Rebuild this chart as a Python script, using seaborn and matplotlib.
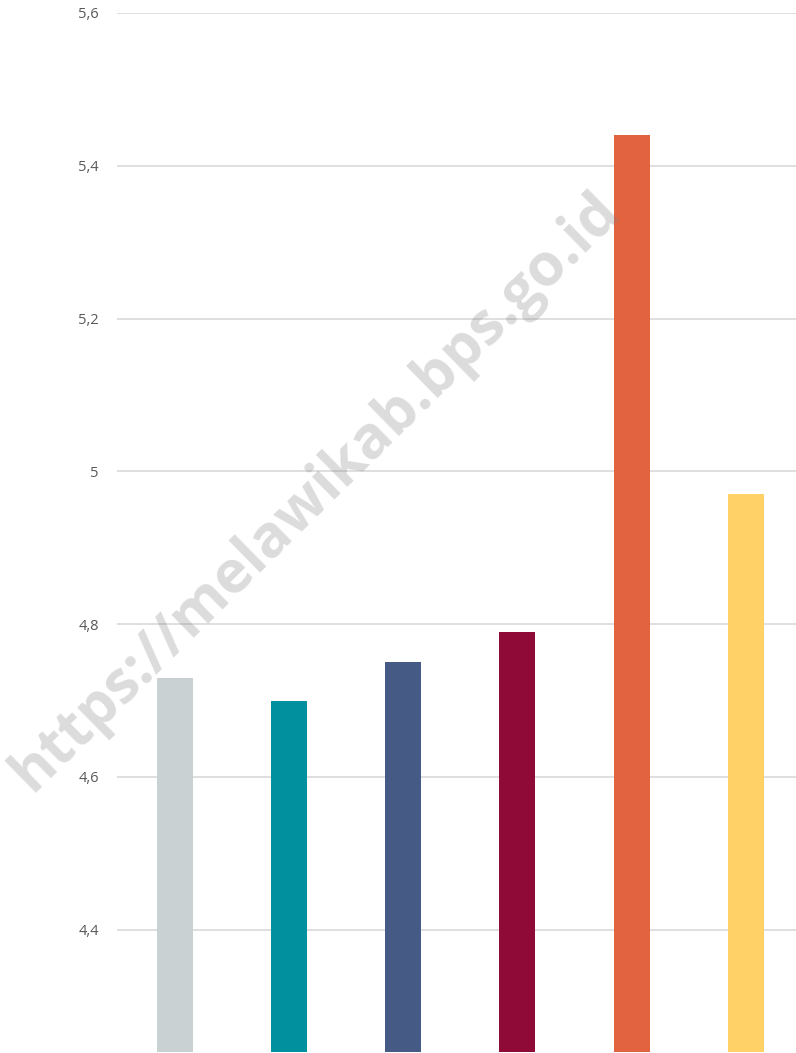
import matplotlib
matplotlib.use('Agg')
import matplotlib.pyplot as plt
import seaborn as sns
import pandas as pd

# Data
categories = ['Seri 1', 'Seri 2', 'Seri 3', 'Seri 4', 'Seri 5', 'Seri 6']
values = [4.73, 4.70, 4.75, 4.79, 5.44, 4.97]
colors = ['#C9D1D3', '#00909E', '#455A85', '#8F0A36', '#E16340', '#FFD166']
y_ticks = [4.4, 4.6, 4.8, 5.0, 5.2, 5.4, 5.6]
y_tick_labels = ['4,4', '4,6', '4,8', '5', '5,2', '5,4', '5,6']

df = pd.DataFrame({'kategori': categories, 'nilai': values})

sns.set_style('white')
plt.rcParams['font.family'] = ['Open Sans', 'DejaVu Sans']

fig = plt.figure(figsize=(7.96, 10.53), dpi=100)
ax = fig.add_axes([0.147, 0.001, 0.853, 0.9867])

sns.barplot(data=df, x='kategori', y='nilai', hue='kategori', palette=colors,
            width=0.315, saturation=1, linewidth=0, legend=False, ax=ax, zorder=3)

ax.set_ylim(4.24, 5.6)
ax.set_xlim(-0.508, 5.44)
ax.set_yticks(y_ticks)
ax.set_yticklabels(y_tick_labels, color='#595959', fontsize=10.5)
ax.tick_params(axis='y', length=0, pad=13)
ax.set_xticks([])
ax.set_xlabel('')
ax.set_ylabel('')
ax.grid(axis='y', color='#d9d9d9', linewidth=1.2, zorder=0)
ax.set_axisbelow(True)
sns.despine(ax=ax, left=True, bottom=True)

# Watermark
fig.text(0.397, 0.533, 'https://melawikab.bps.go.id', rotation=44.5,
         fontsize=42.5, fontweight='bold', color=(0.5, 0.5, 0.5, 0.28),
         ha='center', va='center', zorder=10)

fig.savefig('out.png', dpi=100)
